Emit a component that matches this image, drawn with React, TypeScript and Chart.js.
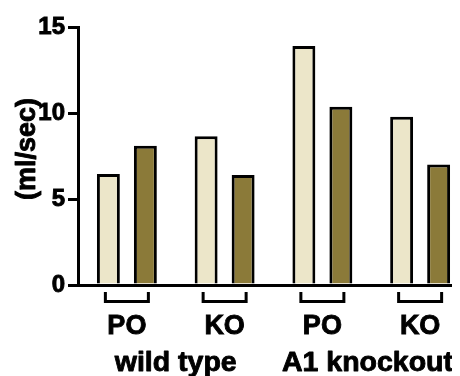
import React, { useEffect, useRef } from 'react';
import { Chart, registerables } from 'chart.js';
Chart.register(...registerables);

const categories = ['PO', 'KO', 'PO', 'KO'];
const groupLabels = ['wild type', 'A1 knockout'];
const lightSeries = [6.45, 8.65, 13.9, 9.78];
const darkSeries = [8.1, 6.4, 10.37, 7.0];
const yTicks = [0, 5, 10, 15];
const yTitle = '(ml/sec)';

const FONT = '"Liberation Sans", Arial, Helvetica, sans-serif';

const annotate = {
  id: 'annotate',
  afterDraw(chart: any) {
    const ctx = chart.ctx;
    const x = chart.scales.x;
    const base = chart.chartArea.bottom;
    ctx.save();
    ctx.strokeStyle = '#000';
    ctx.lineWidth = 3;
    ctx.lineCap = 'butt';
    ctx.lineJoin = 'miter';
    categories.forEach((_, i) => {
      const cx = x.getPixelForValue(i);
      ctx.beginPath();
      ctx.moveTo(cx - 21.5, base + 7);
      ctx.lineTo(cx - 21.5, base + 16.5);
      ctx.lineTo(cx + 21.5, base + 16.5);
      ctx.lineTo(cx + 21.5, base + 7);
      ctx.stroke();
    });
    ctx.fillStyle = '#000';
    ctx.lineWidth = 0.9;
    ctx.lineJoin = 'round';
    ctx.font = `bold 28.5px ${FONT}`;
    ctx.textAlign = 'center';
    ctx.textBaseline = 'alphabetic';
    const maxRight = 445;
    groupLabels.forEach((g, gi) => {
      let cx = (x.getPixelForValue(gi * 2) + x.getPixelForValue(gi * 2 + 1)) / 2;
      const w = ctx.measureText(g).width;
      if (cx + w / 2 > maxRight) cx = maxRight - w / 2;
      ctx.fillText(g, cx, base + 86);
      ctx.strokeText(g, cx, base + 86);
    });
    ctx.translate(20, 141);
    ctx.rotate(-Math.PI / 2);
    ctx.textBaseline = 'middle';
    ctx.font = `bold 27px ${FONT}`;
    ctx.fillText(yTitle, 0, 0);
    ctx.strokeText(yTitle, 0, 0);
    ctx.restore();
  },
};

export default function App() {
  const ref = useRef<HTMLCanvasElement>(null);
  useEffect(() => {
    if (!ref.current) return;
    const chart = new Chart(ref.current, {
      type: 'bar',
      data: {
        labels: categories,
        datasets: [
          {
            data: lightSeries,
            backgroundColor: '#ECE6C9',
            borderColor: '#000',
            borderWidth: 3,
            barPercentage: 0.62,
            categoryPercentage: 0.757,
          },
          {
            data: darkSeries,
            backgroundColor: '#8B7A39',
            borderColor: '#000',
            borderWidth: 3,
            barPercentage: 0.62,
            categoryPercentage: 0.757,
          },
        ],
      },
      options: {
        responsive: false,
        animation: false,
        devicePixelRatio: 1,
        layout: { padding: { top: 19, right: 1, left: 0, bottom: 0 } },
        plugins: { legend: { display: false }, tooltip: { enabled: false } },
        scales: {
          x: {
            grid: { display: false, drawTicks: false },
            border: { display: true, color: '#000', width: 3 },
            ticks: {
              color: '#000',
              font: { family: FONT, weight: 'bold', size: 27 },
              padding: 25,
              maxRotation: 0,
              textStrokeColor: '#000',
              textStrokeWidth: 0.9,
            },
            afterFit(s: any) {
              s.height = 91;
            },
          },
          y: {
            min: 0,
            max: 15,
            afterBuildTicks(s: any) {
              s.ticks = yTicks.map((v) => ({ value: v }));
            },
            grid: {
              drawOnChartArea: false,
              drawTicks: true,
              tickLength: 10,
              lineWidth: 3,
              color: '#000',
            },
            border: { display: true, color: '#000', width: 3 },
            ticks: {
              color: '#000',
              font: { family: FONT, weight: 'bold', size: 24 },
              padding: 3,
              textStrokeColor: '#000',
              textStrokeWidth: 0.9,
            },
            afterFit(s: any) {
              s.width = 70;
            },
          },
        },
      },
      plugins: [annotate],
    });
    return () => chart.destroy();
  }, []);
  return (
    <div style={{ width: 452, height: 368, overflow: 'hidden' }}>
      <canvas ref={ref} width={462} height={368} style={{ width: 462, height: 368, display: 'block' }} />
    </div>
  );
}
